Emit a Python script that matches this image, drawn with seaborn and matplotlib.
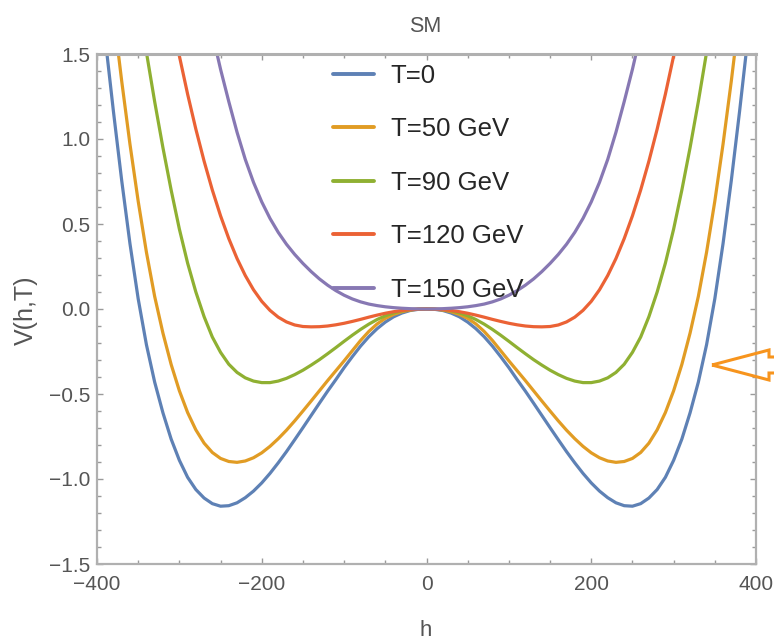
# SM effective potential V(h,T) at several temperatures
import matplotlib
matplotlib.use('Agg')
import matplotlib.pyplot as plt
from matplotlib.patches import Polygon
from matplotlib.ticker import MultipleLocator
import pandas as pd
import seaborn as sns

# values, h = -400 ... -10 GeV in steps of 10
# (the picture is symmetric in h, the right half mirrors these readings)
h_left = [-400, -390, -380, -370, -360, -350, -340, -330, -320, -310,
          -300, -290, -280, -270, -260, -250, -240, -230, -220, -210,
          -200, -190, -180, -170, -160, -150, -140, -130, -120, -110,
          -100, -90, -80, -70, -60, -50, -40, -30, -20, -10]

v_t0_left = [2.05, 1.59, 1.16, 0.755, 0.385, 0.06, -0.21, -0.43, -0.61, -0.765,
             -0.89, -0.99, -1.062, -1.112, -1.145, -1.16, -1.157, -1.14, -1.11, -1.071,
             -1.023, -0.967, -0.905, -0.839, -0.769, -0.698, -0.626, -0.554, -0.483, -0.415,
             -0.345, -0.28, -0.218, -0.163, -0.116, -0.077, -0.046, -0.024, -0.009, -0.002]

v_t50_left = [2.63, 2.17, 1.74, 1.34, 0.97, 0.634, 0.334, 0.074, -0.141, -0.326,
              -0.481, -0.609, -0.711, -0.789, -0.844, -0.879, -0.897, -0.902, -0.894, -0.875,
              -0.846, -0.808, -0.763, -0.713, -0.658, -0.6, -0.541, -0.481, -0.421, -0.363,
              -0.305, -0.245, -0.185, -0.132, -0.088, -0.055, -0.032, -0.016, -0.006, -0.001]

v_t90_left = [3.67, 3.26, 2.87, 2.5, 2.15, 1.82, 1.51, 1.22, 0.95, 0.70,
              0.47, 0.27, 0.10, -0.045, -0.165, -0.255, -0.325, -0.373, -0.405, -0.424,
              -0.433, -0.433, -0.424, -0.408, -0.386, -0.36, -0.33, -0.298, -0.263, -0.227,
              -0.19, -0.154, -0.12, -0.089, -0.062, -0.04, -0.023, -0.011, -0.004, -0.001]

v_t120_left = [4.79, 4.37, 3.97, 3.59, 3.23, 2.89, 2.57, 2.27, 1.988, 1.728,
               1.488, 1.264, 1.058, 0.87, 0.70, 0.548, 0.414, 0.297, 0.197, 0.113,
               0.045, -0.008, -0.048, -0.076, -0.094, -0.103, -0.105, -0.104, -0.1, -0.093,
               -0.084, -0.073, -0.061, -0.048, -0.036, -0.025, -0.016, -0.009, -0.004, -0.001]

v_t150_left = [5.61, 5.26, 4.92, 4.59, 4.27, 3.96, 3.66, 3.37, 3.09, 2.82,
               2.56, 2.31, 2.07, 1.84, 1.62, 1.41, 1.22, 1.04, 0.88, 0.745,
               0.63, 0.533, 0.451, 0.381, 0.321, 0.268, 0.22, 0.177, 0.14, 0.108,
               0.081, 0.059, 0.042, 0.029, 0.02, 0.013, 0.008, 0.0045, 0.002, 0.0005]

labels = ['T=0', 'T=50 GeV', 'T=90 GeV', 'T=120 GeV', 'T=150 GeV']
colors = ['#5E81B5', '#E19C24', '#8FB032', '#EB6235', '#8778B3']

x_ticks = [-400, -200, 0, 200, 400]
x_ticklabels = ['\u2212400', '\u2212200', '0', '200', '400']
y_ticks = [-1.5, -1.0, -0.5, 0.0, 0.5, 1.0, 1.5]
y_ticklabels = ['\u22121.5', '\u22121.0', '\u22120.5', '0.0', '0.5', '1.0', '1.5']

# full curves: left readings, the centre point, then the mirrored side
h = h_left + [0] + [-x for x in h_left[::-1]]
curves = [v_t0_left, v_t50_left, v_t90_left, v_t120_left, v_t150_left]
rows = []
for lab, vl in zip(labels, curves):
    vals = vl + [0.0] + vl[::-1]
    for hx, v in zip(h, vals):
        rows.append({'h': hx, 'V': v, 'T': lab})
df = pd.DataFrame(rows)

sns.set_style('ticks')
plt.rcParams['font.family'] = ['Liberation Sans', 'DejaVu Sans']

W, H = 774, 642
fig = plt.figure(figsize=(W / 100, H / 100), dpi=100)
ax = fig.add_axes([97 / W, (H - 564) / H, 659 / W, 510 / H])

sns.lineplot(data=df, x='h', y='V', hue='T', hue_order=labels,
             palette=dict(zip(labels, colors)), sort=False, estimator=None,
             linewidth=2.3, ax=ax)

ax.set_xlim(-400, 400)
ax.set_ylim(-1.5, 1.5)
ax.set_xticks(x_ticks)
ax.set_xticklabels(x_ticklabels)
ax.set_yticks(y_ticks)
ax.set_yticklabels(y_ticklabels)
ax.xaxis.set_minor_locator(MultipleLocator(50))
ax.yaxis.set_minor_locator(MultipleLocator(0.1))
ax.tick_params(which='both', direction='in', top=True, right=True,
               color='#9a9a9a', width=1.0)
ax.tick_params(which='major', length=4.5, labelsize=15, labelcolor='#555555')
ax.tick_params(axis='x', which='major', pad=8)
ax.tick_params(axis='y', which='major', pad=5)
ax.tick_params(which='minor', length=3)
for s in ax.spines.values():
    s.set_color('#b0b0b0')
    s.set_linewidth(1.6)
ax.spines['top'].set_linewidth(2.2)
ax.set_xlabel('')
ax.set_ylabel('')

# labels and title
fig.text(425 / W, 1 - 26 / H, 'SM', ha='center', va='center',
         fontsize=15.5, color='#555555')
fig.text(426 / W, 1 - 630 / H, 'h', ha='center', va='center',
         fontsize=16, color='#555555')
fig.text(26 / W, 1 - 310 / H, 'V(h,T)', ha='center', va='center',
         rotation=90, fontsize=18, color='#555555')

# legend
handles, labs = ax.get_legend_handles_labels()
leg = ax.legend(handles, labs, loc='upper left', bbox_to_anchor=(0.358, 0.981),
                frameon=False, fontsize=18.5, handlelength=1.6,
                handletextpad=0.65, labelspacing=1.15, borderpad=0,
                borderaxespad=0)
for line in leg.get_lines():
    line.set_linewidth(2.8)

# orange outline arrow at right edge
pts = [(712, 365), (769, 350), (769, 357), (790, 357),
       (790, 373), (769, 373), (769, 380)]
arrow = Polygon([(x / W, 1 - y / H) for x, y in pts], closed=True,
                fill=False, edgecolor='#F7941D', linewidth=2.2,
                transform=fig.transFigure, clip_on=False)
fig.patches.append(arrow)

fig.savefig('out.png', dpi=100)
